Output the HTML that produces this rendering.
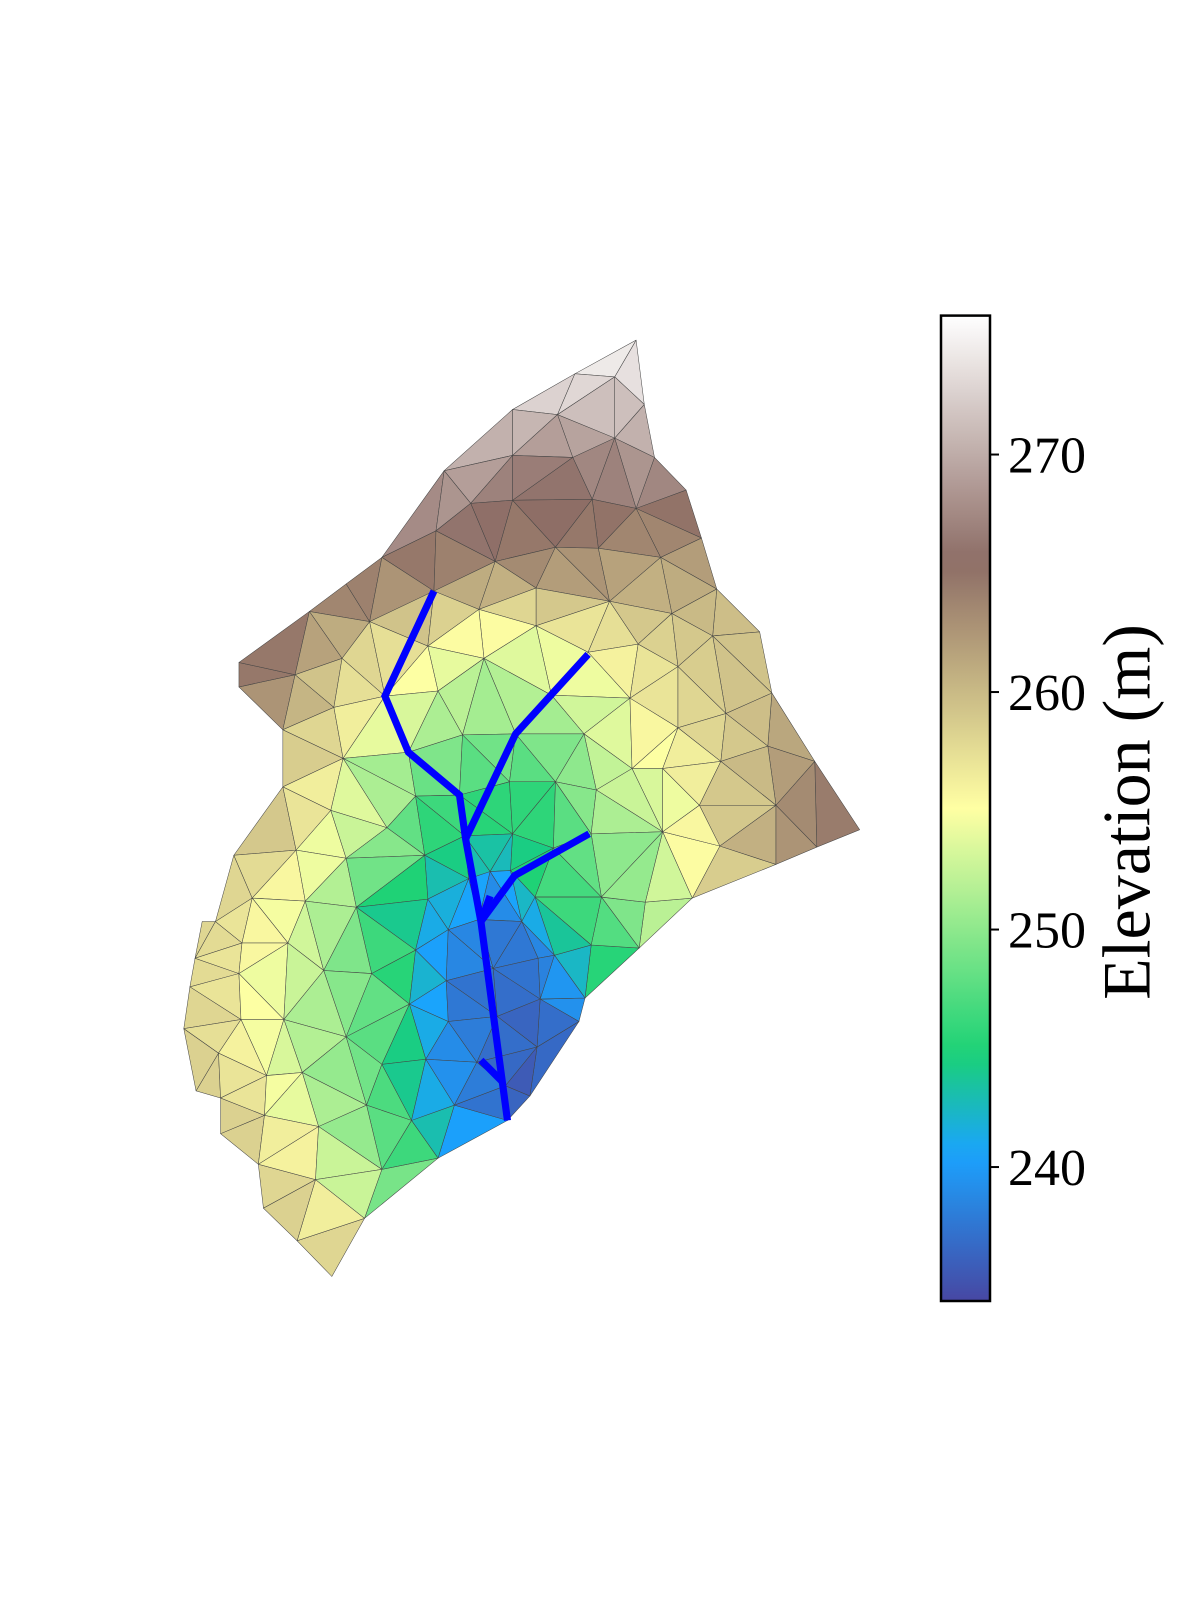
<!DOCTYPE html>
<html><head><meta charset="utf-8">
<style>
html,body{margin:0;padding:0;background:#fff;}
svg{display:block;}
text{font-family:"Liberation Serif","DejaVu Serif",serif;}
</style></head>
<body>
<svg id="chart" width="1200" height="1600" viewBox="0 0 1200 1600" xmlns="http://www.w3.org/2000/svg">
  <g id="mesh" transform="matrix(1.021,0,0,1.02,-1,1.5)"></g>
  <g id="rivers" transform="matrix(1.021,0,0,1.02,-1,1.5)"></g>
  <g id="colorbar">
    <defs><linearGradient id="cbgrad" x1="0" y1="1" x2="0" y2="0"></linearGradient></defs>
    <rect id="cbrect" x="941" y="315.6" width="49" height="985.4" fill="url(#cbgrad)" stroke="#000" stroke-width="2.5"/>
    <g id="cbticks"></g>
    <text x="1134" y="812" font-size="68" text-anchor="middle" transform="rotate(-90 1134 812)" dominant-baseline="middle">Elevation (m)</text>
  </g>
</svg>
<script>
// boundary outline (ordered), each [x, y, elevation]
const boundaryPts = [
 [624,332,276],[632,395,272],[642,447,270],[673,479,266],[688,526,263],[703,576,261],[745,618,259],
 [757,678,260],[799,745,264],[843,812,265],[761,846,262],[679,879,256],[627,928,249],[574,977,242],
 [568,1000,239],[520,1073,236],[498,1097,237],[430,1134,245],[358,1193,253],[326,1250,261],[292,1215,260],
 [259,1183,259],[254,1140,259],[217,1110,259],[217,1075,259],[193,1068,259],[181,1007,259],[187,966,259],
 [192,938,258],[199,902,258],[212,902,258],[230,837,260],[278,770,260],[278,714,261],[235,672,265],[235,648,267],
 [304,598,265],[340,571,266],[375,545,266],[436,460,271],[503,400,272],[564,365,274]
];
// interior mesh nodes [x, y, elevation]
const interiorPts = [
 [603,368,273],[547,405,272],[603,428,269],[462,492,268],[503,445,268],[562,447,267],[581,488,266],[624,497,266],
 [503,489,265],[428,519,266],[486,549,264],[545,535,265],[587,536,263],[648,545,262],[426,578,262],[526,575,261],
 [598,588,260],[659,600,260],[363,608,260],[470,596,257],[526,612,256],[577,638,255],[626,630,257],[699,622,259],
 [290,660,262],[336,644,258],[420,632,256],[475,644,253],[378,681,256],[430,676,253],[541,680,252],[618,683,256],
 [665,652,258],[712,698,259],[328,692,258],[401,736,251],[454,719,250],[506,718,250],[573,718,251],[620,752,254],
 [665,712,257],[707,745,258],[753,730,260],[337,742,255],[408,779,247],[451,778,247],[500,765,246],[545,765,247],
 [585,773,252],[650,752,254],[686,788,257],[761,788,262],[291,832,257],[325,793,254],[380,810,252],[417,837,245],
 [456,818,245],[503,816,244],[543,830,246],[580,816,250],[650,814,252],[706,828,258],[801,829,264],[248,879,256],
 [300,882,254],[340,840,252],[420,880,241],[460,860,243],[481,853,241],[501,852,243],[525,878,246],[590,878,248],
 [633,883,251],[238,923,257],[283,923,254],[350,888,249],[408,930,242],[440,910,241],[470,900,238],[512,902,238],
 [544,935,240],[580,925,245],[235,953,256],[318,950,251],[365,953,248],[402,983,246],[438,960,238],[484,948,237],
 [528,938,238],[237,998,256],[279,998,253],[340,1015,250],[440,1000,238],[488,995,237],[530,978,237],[215,1031,257],
 [297,1050,252],[375,1042,247],[418,1037,240],[468,1040,239],[527,1025,235],[262,1053,255],[360,1082,249],
 [404,1097,245],[446,1082,239],[496,1063,236],[260,1092,257],[313,1103,253],[375,1145,249],[310,1155,256]
];
// river polylines
const riverMain = [[426,578],[378,681],[401,736],[451,778],[457,821],[472,902],[498,1097]];
const riverB = [[457,821],[506,718],[577,640]];
const riverC = [[472,902],[505,857],[578,816]];
const riverD = [[472,1038],[493,1059]];
const riverE = [[472,902],[481,877]];
// colorbar ticks
const tickValues = [240,250,260,270];
const tickLabels = ["240","250","260","270"];
const vmin = 234.36, vmax = 275.85;

const NS = "http://www.w3.org/2000/svg";
const stops = [[0,[51,51,153]],[0.15,[0,153,255]],[0.25,[0,204,102]],[0.5,[255,255,153]],[0.75,[128,92,84]],[1,[255,255,255]]];
function cmap(t){
  t=Math.max(0,Math.min(1,t));
  for(let i=0;i<stops.length-1;i++){
    const [a,ca]=stops[i],[b,cb]=stops[i+1];
    if(t<=b){const f=(t-a)/(b-a);
      const c=ca.map((v,k)=>v+(cb[k]-v)*f).map(v=>Math.round(v*0.9+255*0.1));
      return `rgb(${c[0]},${c[1]},${c[2]})`;}
  }
  return "rgb(255,255,255)";
}
function norm(v){return (v-vmin)/(vmax-vmin);}
function cbY(v){return 1301-(v-vmin)/(vmax-vmin)*985.4;}

const pts = boundaryPts.concat(interiorPts);
function circum(a,b,c){
  const ax=a[0],ay=a[1],bx=b[0],by=b[1],cx=c[0],cy=c[1];
  const d=2*(ax*(by-cy)+bx*(cy-ay)+cx*(ay-by));
  const ux=((ax*ax+ay*ay)*(by-cy)+(bx*bx+by*by)*(cy-ay)+(cx*cx+cy*cy)*(ay-by))/d;
  const uy=((ax*ax+ay*ay)*(cx-bx)+(bx*bx+by*by)*(ax-cx)+(cx*cx+cy*cy)*(bx-ax))/d;
  return [ux,uy,(ax-ux)*(ax-ux)+(ay-uy)*(ay-uy)];
}
function delaunay(P){
  const all=P.map(p=>[p[0],p[1]]);
  const n=all.length;
  all.push([-10000,-10000],[10000,-10000],[0,10000]);
  let tris=[[n,n+1,n+2]];
  tris[0].c=circum(all[n],all[n+1],all[n+2]);
  for(let i=0;i<n;i++){
    const p=all[i];const bad=[],keep=[];
    for(const t of tris){const c=t.c;const dx=p[0]-c[0],dy=p[1]-c[1];
      if(dx*dx+dy*dy<c[2])bad.push(t);else keep.push(t);}
    const edges={};
    for(const t of bad){for(let k=0;k<3;k++){const a=t[k],b=t[(k+1)%3];
      const key=a<b?a+'_'+b:b+'_'+a;
      if(edges[key])edges[key].cnt++;else edges[key]={a:a,b:b,cnt:1};}}
    tris=keep;
    for(const key in edges){const e=edges[key];if(e.cnt===1){
      const t=[e.a,e.b,i];t.c=circum(all[e.a],all[e.b],all[i]);tris.push(t);}}
  }
  return tris.filter(t=>t[0]<n&&t[1]<n&&t[2]<n);
}
function inPoly(x,y,poly){
  let ins=false;
  for(let i=0,j=poly.length-1;i<poly.length;j=i++){
    const xi=poly[i][0],yi=poly[i][1],xj=poly[j][0],yj=poly[j][1];
    if(((yi>y)!==(yj>y))&&(x<(xj-xi)*(y-yi)/(yj-yi)+xi))ins=!ins;
  }
  return ins;
}
const mesh=document.getElementById('mesh');
const tris=delaunay(pts);
tris.forEach((t,idx)=>{
  const a=pts[t[0]],b=pts[t[1]],c=pts[t[2]];
  const cx=(a[0]+b[0]+c[0])/3,cy=(a[1]+b[1]+c[1])/3;
  if(!inPoly(cx,cy,boundaryPts))return;
  const z=(a[2]+b[2]+c[2])/3;
  const el=document.createElementNS(NS,'polygon');
  el.setAttribute('points',`${a[0]},${a[1]} ${b[0]},${b[1]} ${c[0]},${c[1]}`);
  el.setAttribute('fill',cmap(norm(z)));
  el.setAttribute('stroke','#444');
  el.setAttribute('stroke-width','0.5');
  el.setAttribute('stroke-linejoin','round');
  
  
  mesh.appendChild(el);
});
const rivers=document.getElementById('rivers');
[riverMain,riverB,riverC,riverD,riverE].forEach(r=>{
  const el=document.createElementNS(NS,'polyline');
  el.setAttribute('points',r.map(p=>p.join(',')).join(' '));
  el.setAttribute('fill','none');
  el.setAttribute('stroke','#0000ff');
  el.setAttribute('stroke-width','7');
  el.setAttribute('stroke-linejoin','miter');
  
  
  rivers.appendChild(el);
});
const grad=document.getElementById('cbgrad');
for(let i=0;i<=50;i++){
  const t=i/50;const s=document.createElementNS(NS,'stop');
  s.setAttribute('offset',t);s.setAttribute('stop-color',cmap(t));grad.appendChild(s);
}
const tg=document.getElementById('cbticks');
tickValues.forEach((v,i)=>{
  const y=cbY(v);
  const l=document.createElementNS(NS,'line');
  l.setAttribute('x1',990);l.setAttribute('x2',999);l.setAttribute('y1',y);l.setAttribute('y2',y);
  l.setAttribute('stroke','#000');l.setAttribute('stroke-width','2');
  
  
  tg.appendChild(l);
  const tx=document.createElementNS(NS,'text');
  tx.setAttribute('x',1008);tx.setAttribute('y',y+18);tx.setAttribute('font-size','52');
  tx.textContent=tickLabels[i];
  
  
  tg.appendChild(tx);
});
</script>
</body></html>
